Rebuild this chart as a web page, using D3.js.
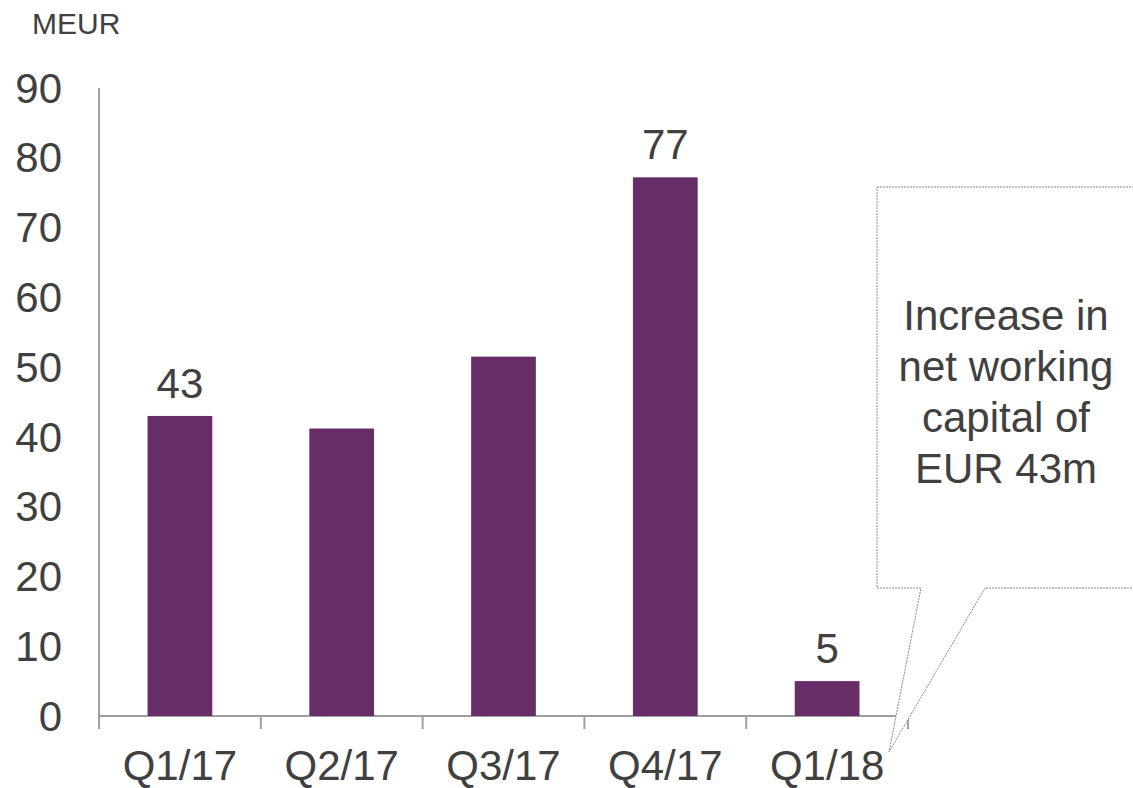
<!DOCTYPE html>
<html><head><meta charset="utf-8">
<script src="https://cdn.jsdelivr.net/npm/d3@7"></script>
<style>body{margin:0;background:#fff}svg{display:block}text{font-family:"Liberation Sans",Arial,sans-serif;fill:#404040}</style>
</head><body>
<script>
const categories = ["Q1/17","Q2/17","Q3/17","Q4/17","Q1/18"];
const values = [43, 41.2, 51.5, 77.2, 5];
const labelShown = [true, false, false, true, true];
const yTicks = [0,10,20,30,40,50,60,70,80,90];
const unitLabel = "MEUR";
const calloutLines = ["Increase in","net working","capital of","EUR 43m"];

const W = 1133, H = 788;
const svg = d3.select("body").append("svg").attr("width", W).attr("height", H);
const x0 = 99, x1 = 908, yTop = 88, yBase = 716;
const x = d3.scaleBand().domain(categories).range([x0, x1]).paddingInner(0.6).paddingOuter(0.3);
const y = d3.scaleLinear().domain([0, 90]).range([yBase, yTop]);

// y axis line
svg.append("line").attr("x1", x0).attr("x2", x0).attr("y1", yTop).attr("y2", yBase + 13)
  .attr("stroke", "#a0a0a0").attr("stroke-width", 2);
// y tick labels
svg.selectAll(".yt").data(yTicks).join("text")
  .attr("x", 62).attr("y", d => y(d)).attr("dy", "0.35em").attr("text-anchor", "end")
  .attr("font-size", 42).text(d => d);
// x axis
svg.append("line").attr("x1", x0).attr("x2", x1).attr("y1", yBase).attr("y2", yBase)
  .attr("stroke", "#a0a0a0").attr("stroke-width", 2);
const tickPos = d3.range(categories.length + 1).map(i => x0 + i * (x1 - x0) / categories.length);
svg.selectAll(".xt").data(tickPos).join("line")
  .attr("x1", d => d).attr("x2", d => d).attr("y1", yBase).attr("y2", yBase + 13)
  .attr("stroke", "#a0a0a0").attr("stroke-width", 2);
svg.selectAll(".xl").data(categories).join("text")
  .attr("x", d => x(d) + x.bandwidth() / 2).attr("y", 780).attr("text-anchor", "middle")
  .attr("font-size", 42).text(d => d);
// bars
svg.selectAll(".bar").data(values).join("rect")
  .attr("x", (d, i) => x(categories[i])).attr("width", x.bandwidth())
  .attr("y", d => y(d)).attr("height", d => yBase - y(d)).attr("fill", "#672d69");
// data labels
svg.selectAll(".dl").data(values.map((v, i) => ({v, i})).filter(d => labelShown[d.i])).join("text")
  .attr("x", d => x(categories[d.i]) + x.bandwidth() / 2).attr("y", d => y(d.v) - 18)
  .attr("text-anchor", "middle").attr("font-size", 42).text(d => Math.round(d.v));
// unit
svg.append("text").attr("x", 32).attr("y", 34).attr("font-size", 30).text(unitLabel);
// callout
const cl = 877, ct = 187, cb = 588, cr = 1140;
const pts = [[cl, ct], [cr, ct], [cr, cb], [985, cb], [889, 752], [921, cb], [cl, cb]];
svg.append("path").attr("d", d3.line()(pts) + "Z").attr("fill", "#fff")
  .attr("stroke", "#8a8a8a").attr("stroke-width", 1).attr("stroke-dasharray", "2,1");
svg.selectAll(".cl").data(calloutLines).join("text")
  .attr("x", 1006).attr("y", (d, i) => 330 + i * 51).attr("text-anchor", "middle")
  .attr("font-size", 42).text(d => d);
</script>
</body></html>
